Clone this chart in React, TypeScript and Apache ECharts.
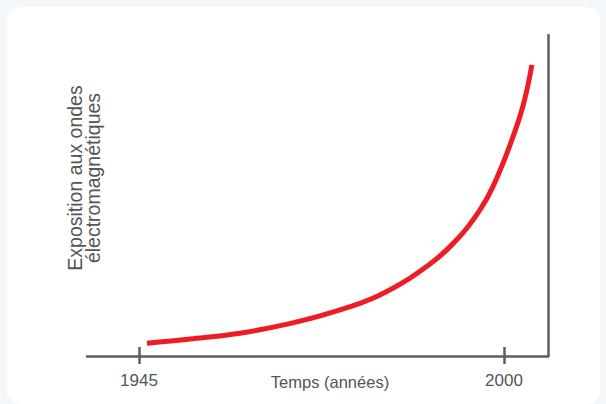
import React, { useEffect, useRef } from "react";
import * as echarts from "echarts";

const years = [1946.2, 1952.7, 1960.2, 1967.7, 1973.8, 1981.3, 1988.8, 1993.4, 1996.4, 1998.3, 2000.9, 2002.9, 2004.2];
const exposure = [4.0, 5.3, 7.1, 10.1, 13.4, 19.0, 28.6, 37.4, 45.6, 52.6, 65.7, 78.2, 90.7];
const tickYears = [1945, 2000];
const xName = "Temps (années)";
const yName = "Exposition aux ondes\nélectromagnétiques";

const AXIS = "#5e5e5e";
const TEXT = "#555555";
const FONT = "'Liberation Sans', Arial, sans-serif";

export default function App() {
  const ref = useRef<HTMLDivElement>(null);
  useEffect(() => {
    document.body.style.margin = "0";
    const chart = echarts.init(ref.current!, null, { renderer: "svg" });
    const xBase = {
      type: "value" as const,
      min: 1937.16,
      max: 2006.63,
      position: "bottom" as const,
      splitLine: { show: false },
    };
    chart.setOption({
      animation: false,
      grid: { left: 87, right: 58, top: 35, bottom: 48 },
      xAxis: [
        {
          ...xBase,
          axisLine: { show: true, lineStyle: { color: AXIS, width: 2.5 } },
          axisTick: {
            show: true,
            length: 8,
            customValues: tickYears,
            lineStyle: { color: AXIS, width: 2.5 },
          },
          axisLabel: {
            show: true,
            customValues: tickYears,
            formatter: (v: number) => String(v),
            color: TEXT,
            fontSize: 17,
            fontFamily: FONT,
            margin: 16,
          },
        },
        {
          ...xBase,
          axisLine: { show: false },
          axisTick: {
            show: true,
            inside: true,
            length: 9,
            customValues: tickYears,
            lineStyle: { color: AXIS, width: 2.5 },
          },
          axisLabel: { show: false },
        },
      ],
      yAxis: {
        type: "value",
        min: 0,
        max: 100,
        position: "right",
        axisLine: { show: true, lineStyle: { color: AXIS, width: 2.5 } },
        axisTick: { show: false },
        axisLabel: { show: false },
        splitLine: { show: false },
      },
      graphic: [
        {
          type: "text",
          x: 330,
          y: 382,
          style: {
            text: xName,
            fill: TEXT,
            fontSize: 16.5,
            fontFamily: FONT,
            align: "center",
            verticalAlign: "middle",
          },
        },
        {
          type: "text",
          x: 84,
          y: 178,
          rotation: Math.PI / 2,
          style: {
            text: yName,
            fill: TEXT,
            fontSize: 19.5,
            lineHeight: 18,
            fontFamily: FONT,
            align: "center",
            verticalAlign: "middle",
          },
        },
      ],
      series: [
        {
          type: "line",
          data: years.map((y, i) => [y, exposure[i]]),
          smooth: 0.4,
          symbol: "none",
          lineStyle: { color: "#ee1c25", width: 5 },
          xAxisIndex: 0,
        },
      ],
    });
    return () => chart.dispose();
  }, []);
  return (
    <div style={{ position: "relative", width: 606, height: 404, background: "#f3f7fb", overflow: "hidden" }}>
      <div
        style={{
          position: "absolute",
          left: 7,
          top: 7,
          right: 6,
          bottom: 0,
          background: "#ffffff",
          borderRadius: 14,
        }}
      />
      <div ref={ref} style={{ position: "absolute", left: 0, top: 0, width: 606, height: 404 }} />
    </div>
  );
}
